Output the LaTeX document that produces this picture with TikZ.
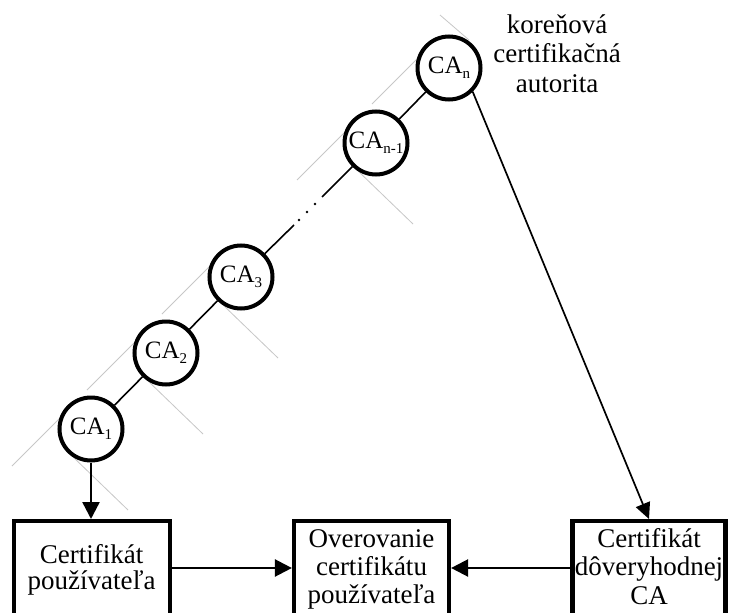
\documentclass[tikz,border=0pt]{standalone}
\usepackage{fontspec}
\setmainfont{Liberation Serif}
\usetikzlibrary{arrows.meta}
\begin{document}
\begin{tikzpicture}[x=1pt,y=-1pt,
  ca/.style={circle,draw,line width=4pt,fill=white,minimum size=63pt,inner sep=0pt,font=\fontsize{25}{25}\selectfont},
  box/.style={draw,line width=4.2pt,minimum height=150pt,anchor=north,inner sep=0pt,overlay},
  txt/.style={anchor=base,font=\fontsize{27}{27}\selectfont,inner sep=0pt},
  link/.style={line width=1.6pt},
  arr/.style={line width=2.4pt,-{Triangle[length=17pt,width=17pt]}},
  arrthin/.style={line width=1.7pt,-{Triangle[length=16pt,width=15pt]}},
  guide/.style={draw=black!22,line width=0.8pt},
  dotmark/.style={circle,fill=black,inner sep=0pt,minimum size=2.8pt}]
\clip (0,0) rectangle (729,613);
\fill[white] (0,0) rectangle (729,613);

% gray guide lines (drawn first, covered by circle fill)
\foreach \cx/\cy in {91/429,166/353,241/277,376/143}{
  \draw[guide] (\cx-79,\cy+37) -- (\cx-25,\cy-17);
  \draw[guide] (\cx-20,\cy+26) -- (\cx+37,\cy+81);
}
\draw[guide] (449-77,68+36) -- (449-25,68-16);
\draw[guide] (449-9,68-53) -- (449+20,68-28);

% CA nodes
\node[ca] (ca1) at (91,429) {CA\raisebox{-5pt}{\fontsize{15}{15}\selectfont 1}};
\node[ca] (ca2) at (166,353) {CA\raisebox{-5pt}{\fontsize{15}{15}\selectfont 2}};
\node[ca] (ca3) at (241,277) {CA\raisebox{-5pt}{\fontsize{15}{15}\selectfont 3}};
\node[ca] (cam) at (376,143) {CA\raisebox{-5pt}{\fontsize{15}{15}\selectfont n-1}};
\node[ca] (can) at (449,68) {CA\raisebox{-5pt}{\fontsize{15}{15}\selectfont n}};

% chain links
\coordinate (g1) at (294,225);
\coordinate (g2) at (322,197);
\draw[link] (ca1) -- (ca2);
\draw[link] (ca2) -- (ca3);
\draw[link] (ca3) -- (g1);
\draw[link] (g2) -- (cam);
\draw[link] (cam) -- (can);
\node[dotmark] (d1) at (299,220) {};
\node[dotmark] (d2) at (307,212) {};
\node[dotmark] (d3) at (315,204) {};

% root label
\node[txt] (r1) at (557,33) {koreňová};
\node[txt] (r2) at (557,62.5) {certifikačná};
\node[txt] (r3) at (557,92) {autorita};

% boxes
\node[box,minimum width=156pt] (b1) at (91.7,519) {};
\node[box,minimum width=155pt] (b2) at (371.5,519) {};
\node[box,minimum width=153pt] (b3) at (649,519) {};

\node[txt] (t1a) at (91.7,563) {Certifikát};
\node[txt] (t1b) at (91.7,589) {používateľa};
\node[txt] (t2a) at (371.5,547) {Overovanie};
\node[txt] (t2b) at (371.5,575.5) {certifikátu};
\node[txt] (t2c) at (371.5,603.5) {používateľa};
\node[txt] (t3a) at (649,547) {Certifikát};
\node[txt] (t3b) at (649,575.5) {dôveryhodnej};
\node[txt] (t3c) at (649,604) {CA};

% arrows
\draw[arr] (ca1) -- (ca1 |- b1.north);
\draw[arrthin] (can.-45) -- (b3.north);
\coordinate (h1) at (0,568);
\draw[arr] (b1.east |- h1) -- (b2.west |- h1);
\draw[arr] (b3.west |- h1) -- (b2.east |- h1);
\end{tikzpicture}
\end{document}
